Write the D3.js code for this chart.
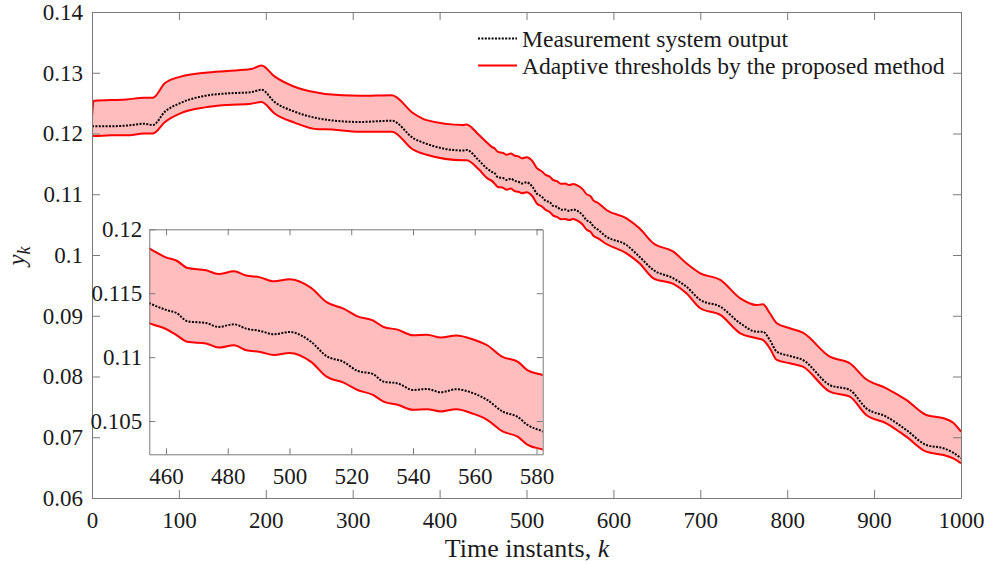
<!DOCTYPE html>
<html>
<head>
<meta charset="utf-8">
<script src="https://cdn.jsdelivr.net/npm/d3@7"></script>
<style>
  body { margin: 0; background: #fff; }
  svg text { font-family: "Liberation Serif", "Times New Roman", serif; fill: #1a1a1a; }
</style>
</head>
<body>
<svg width="989" height="570"></svg>
<script>
// time instants k
var kVals = [0, 2, 22, 40, 60, 70, 84, 103, 130, 156, 183, 195, 210, 233, 260, 268, 308, 345, 370, 385, 427, 431, 445,
  455, 460, 463.5, 467, 473, 477, 482, 486, 490.5, 495, 500, 507, 512, 517.5, 522, 527, 530.5, 535, 540, 544.5, 549, 554, 559.5, 564, 569, 574, 577, 582,
  592, 615, 630, 646, 669, 684, 700, 723, 746, 765, 772, 780, 788, 803, 818, 849, 872, 891, 914, 937, 960, 980, 991, 1000];

// upper adaptive threshold
var upper = [0.1228, 0.1254, 0.1255, 0.1256, 0.1259, 0.1259, 0.1283, 0.1294, 0.1300, 0.1303, 0.1306, 0.1312, 0.1294, 0.1277, 0.1267, 0.1265, 0.1262, 0.1263, 0.1233, 0.1222, 0.1214, 0.1215, 0.1198,
  0.11845, 0.1178, 0.11754, 0.11697, 0.1168, 0.1165, 0.11671, 0.11638, 0.11624, 0.11593, 0.1161, 0.11542, 0.1143, 0.11379, 0.11319, 0.11288, 0.11236, 0.11215, 0.11171, 0.11176, 0.11153, 0.11169, 0.11138, 0.11093, 0.11002, 0.10963, 0.10899, 0.1086,
  0.10741, 0.10604, 0.1044, 0.10193, 0.10055, 0.09864, 0.09699, 0.09589, 0.09287, 0.09177, 0.09189, 0.09041, 0.08876, 0.08794, 0.08721, 0.08326, 0.08218, 0.07954, 0.07806, 0.07614, 0.07367, 0.07312, 0.0724, 0.07092];

// measurement system output
var output = [0.1212, 0.1212, 0.1212, 0.1213, 0.1216, 0.1214, 0.1236, 0.1251, 0.1262, 0.1266, 0.1268, 0.1272, 0.1252, 0.1236, 0.1225, 0.1223, 0.1219, 0.1221, 0.1192, 0.1183, 0.1172, 0.1173, 0.1156,
  0.11418, 0.1137, 0.11344, 0.1128, 0.11267, 0.11236, 0.11257, 0.11223, 0.11205, 0.11179, 0.11197, 0.1112, 0.11008, 0.10963, 0.10893, 0.10868, 0.10808, 0.10795, 0.10743, 0.10751, 0.10725, 0.10749, 0.10718, 0.10666, 0.10575, 0.10531, 0.10471, 0.10419,
  0.10301, 0.10165, 0.09972, 0.09753, 0.09617, 0.09478, 0.0926, 0.09149, 0.08876, 0.08738, 0.08738, 0.08601, 0.08409, 0.08338, 0.08272, 0.0786, 0.07778, 0.07477, 0.07339, 0.0712, 0.06873, 0.06818, 0.06746, 0.06654];

// lower adaptive threshold
var lower = [0.1196, 0.1196, 0.1197, 0.1197, 0.1200, 0.1200, 0.1219, 0.1234, 0.1243, 0.1247, 0.1249, 0.1252, 0.1233, 0.1218, 0.1207, 0.1207, 0.1203, 0.1203, 0.1173, 0.1165, 0.1156, 0.1156, 0.1141,
  0.11262, 0.1122, 0.11171, 0.1112, 0.11107, 0.11075, 0.11093, 0.11054, 0.11041, 0.11016, 0.11033, 0.10963, 0.10847, 0.108, 0.10743, 0.10705, 0.10652, 0.10627, 0.10588, 0.10593, 0.10575, 0.10593, 0.10557, 0.1051, 0.10419, 0.10376, 0.10316, 0.10277,
  0.10181, 0.10028, 0.09864, 0.09617, 0.09523, 0.0937, 0.09123, 0.09013, 0.08711, 0.08629, 0.08601, 0.08464, 0.08272, 0.08218, 0.08162, 0.0775, 0.07668, 0.07367, 0.0723, 0.0701, 0.06763, 0.06708, 0.06654, 0.06572];

var xTicks = [0, 100, 200, 300, 400, 500, 600, 700, 800, 900, 1000];
var yTicks = [0.06, 0.07, 0.08, 0.09, 0.1, 0.11, 0.12, 0.13, 0.14];
var insetXTicks = [460, 480, 500, 520, 540, 560, 580];
var insetYTicks = [0.105, 0.11, 0.115, 0.12];
var legendLabels = ["Measurement system output", "Adaptive thresholds by the proposed method"];

var data = kVals.map(function(k, i) {
  return {k: k, up: upper[i], out: output[i], lo: lower[i]};
});

var svg = d3.select("svg");
var serif = '"Liberation Serif", "Times New Roman", serif';
var axisColor = "#7a7a7a";
var fillColor = "#ffbdbd";
var fmt = function(d) { return String(+d.toFixed(3)); };
var curve = d3.curveMonotoneX;

var x = d3.scaleLinear().domain([0, 1000]).range([92, 961]);
var y = d3.scaleLinear().domain([0.06, 0.14]).range([498, 12]);

var drawPanel = function(g, xs, ys, clipId) {
  var box = [xs.range()[0], ys.range()[1], xs.range()[1] - xs.range()[0], ys.range()[0] - ys.range()[1]];
  g.append("clipPath").attr("id", clipId)
    .append("rect").attr("x", box[0]).attr("y", box[1]).attr("width", box[2]).attr("height", box[3]);
  var inner = g.append("g").attr("clip-path", "url(#" + clipId + ")");
  var area = d3.area().curve(curve).x(d => xs(d.k)).y0(d => ys(d.lo)).y1(d => ys(d.up));
  inner.append("path").attr("d", area(data)).attr("fill", fillColor);
  ["up", "lo"].forEach(function(key) {
    inner.append("path")
      .attr("d", d3.line().curve(curve).x(d => xs(d.k)).y(d => ys(d[key]))(data))
      .attr("fill", "none").attr("stroke", "#ff0000").attr("stroke-width", 2);
  });
  inner.append("path")
    .attr("d", d3.line().curve(curve).x(d => xs(d.k)).y(d => ys(d.out))(data))
    .attr("fill", "none").attr("stroke", "#000").attr("stroke-width", 2)
    .attr("stroke-dasharray", "2,1.4");
};

var styleAxis = function(sel) {
  sel.attr("font-family", serif).attr("font-size", 23);
  sel.selectAll("path, line").attr("stroke", axisColor);
  sel.selectAll("text").attr("fill", "#1a1a1a").style("font-size", "23px").style("font-family", serif);
};

var drawAxes = function(g, xs, ys, xt, yt, tick, xpad, ypad) {
  g.append("g").attr("transform", "translate(0," + ys.range()[0] + ")")
    .call(d3.axisBottom(xs).tickValues(xt).tickSize(-tick).tickSizeOuter(0).tickPadding(xpad).tickFormat(fmt))
    .call(styleAxis);
  g.append("g").attr("transform", "translate(0," + ys.range()[1] + ")")
    .call(d3.axisTop(xs).tickValues(xt).tickSize(-tick).tickSizeOuter(0).tickFormat(""))
    .call(styleAxis);
  g.append("g").attr("transform", "translate(" + xs.range()[0] + ",0)")
    .call(d3.axisLeft(ys).tickValues(yt).tickSize(-tick).tickSizeOuter(0).tickPadding(ypad).tickFormat(fmt))
    .call(styleAxis);
  g.append("g").attr("transform", "translate(" + xs.range()[1] + ",0)")
    .call(d3.axisRight(ys).tickValues(yt).tickSize(-tick).tickSizeOuter(0).tickFormat(""))
    .call(styleAxis);
};

// main panel
var main = svg.append("g");
drawPanel(main, x, y, "clipMain");
drawAxes(main, x, y, xTicks, yTicks, 8, 14, 9);

// legend
var legend = svg.append("g");
legendLabels.forEach(function(label, i) {
  var ly = 38.5 + i * 27;
  var ln = legend.append("line").attr("x1", 478).attr("x2", 517).attr("y1", ly).attr("y2", ly)
    .attr("stroke-width", 2);
  if (i === 0) ln.attr("stroke", "#000").attr("stroke-dasharray", "2,1.4");
  else ln.attr("stroke", "#ff0000");
  legend.append("text").attr("x", 522).attr("y", ly + 8)
    .style("font-size", "23.6px").text(label);
});

// axis titles
var xt = svg.append("text").attr("x", 527).attr("y", 557).attr("text-anchor", "middle").style("font-size", "26px");
xt.append("tspan").text("Time instants, ");
xt.append("tspan").style("font-style", "italic").text("k");

var yl = svg.append("text").attr("transform", "translate(25,256) rotate(-90)")
  .attr("text-anchor", "middle").style("font-size", "25px");
yl.append("tspan").style("font-style", "italic").text("y");
yl.append("tspan").style("font-style", "italic").style("font-size", "18px").attr("dy", 5).text("k");

// inset
var xi = d3.scaleLinear().domain([454.6, 582]).range([149.3, 542.7]);
var yi = d3.scaleLinear().domain([0.1024, 0.12]).range([454.3, 229.3]);
var inset = svg.append("g");
inset.append("rect").attr("x", 149.3).attr("y", 229.3).attr("width", 542.7 - 149.3).attr("height", 454.3 - 229.3)
  .attr("fill", "#fff");
drawPanel(inset, xi, yi, "clipInset");
drawAxes(inset, xi, yi, insetXTicks, insetYTicks, 6, 13, 7);
</script>
</body>
</html>
